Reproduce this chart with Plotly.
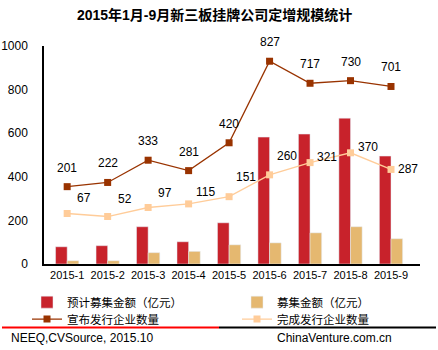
import plotly.graph_objects as go

months = ["2015-1", "2015-2", "2015-3", "2015-4", "2015-5", "2015-6", "2015-7", "2015-8", "2015-9"]
planned_amount = [79, 84, 171, 102, 189, 582, 596, 669, 495]      # 预计募集金额（亿元）
raised_amount = [15, 15, 52, 58, 88, 97, 143, 171, 116]           # 募集金额（亿元）
announced_count = [201, 222, 333, 281, 420, 827, 717, 730, 701]   # 宣布发行企业数量
completed_count = [67, 52, 97, 115, 151, 260, 321, 370, 287]      # 完成发行企业数量

names = ["预计募集金额（亿元）", "募集金额（亿元）", "宣布发行企业数量", "完成发行企业数量"]

FONT = "Liberation Sans, Arial, Noto Sans CJK SC, sans-serif"
RED = "#C8222B"
TAN = "#E5B870"
BROWN = "#993300"
PEACH = "#FFCC99"

# plot area geometry (pixels)
L, R, T, B = 44, 420, 45.7, 264.3
W, H = 438, 350

def px(x):
    return (x - L) / (R - L)

def py(y):
    return (B - y) / (B - T)

fig = go.Figure()
fig.add_trace(go.Bar(x=months, y=planned_amount, name=names[0], marker_color=RED, legend="legend"))
fig.add_trace(go.Bar(x=months, y=raised_amount, name=names[1], marker_color=TAN, legend="legend2"))
fig.add_trace(go.Scatter(x=months, y=announced_count, name=names[2], yaxis="y2", legend="legend3",
                         mode="lines+markers", line=dict(color=BROWN, width=1.3),
                         marker=dict(symbol="square", size=7, color=BROWN)))
fig.add_trace(go.Scatter(x=months, y=completed_count, name=names[3], yaxis="y2", legend="legend4",
                         mode="lines+markers", line=dict(color=PEACH, width=1.3),
                         marker=dict(symbol="square", size=7, color=PEACH)))

annotations = []
for m, v in zip(months, announced_count):
    annotations.append(dict(x=m, y=v, yref="y2", xref="x", text=str(v), showarrow=False,
                            yshift=19, font=dict(size=12, color="#000", family=FONT)))
light_yshift = [16, 18, 15, 12, 20, 19, 6, 6, 0]
for m, v, s in zip(months, completed_count, light_yshift):
    annotations.append(dict(x=m, y=v, yref="y2", xref="x", text=str(v), showarrow=False,
                            xshift=17, yshift=s, font=dict(size=12, color="#000", family=FONT)))

annotations.append(dict(x=px(9), y=py(339), xref="paper", yref="paper", text="NEEQ,CVSource, 2015.10",
                        showarrow=False, xanchor="left", yanchor="middle",
                        font=dict(size=12, color="#000", family=FONT)))
annotations.append(dict(x=px(275), y=py(339), xref="paper", yref="paper", text="ChinaVenture.com.cn",
                        showarrow=False, xanchor="left", yanchor="middle",
                        font=dict(size=12, color="#000", family=FONT)))

shapes = [
    dict(type="line", xref="paper", yref="paper", x0=px(2), x1=px(219), y0=py(328), y1=py(328),
         line=dict(color="#FF0000", width=2)),
    dict(type="line", xref="paper", yref="paper", x0=px(219), x1=px(436), y0=py(328), y1=py(328),
         line=dict(color="#000000", width=2)),
]

legend_common = dict(orientation="v", xanchor="left", yanchor="top",
                     font=dict(size=11.5, family=FONT), itemwidth=30, bgcolor="rgba(0,0,0,0)")

fig.update_layout(
    width=W, height=H,
    margin=dict(l=L, r=W - R, t=T, b=H - B, autoexpand=False),
    paper_bgcolor="white", plot_bgcolor="white",
    barmode="group", bargap=0.426, bargroupgap=0,
    font=dict(family=FONT, size=12, color="#000"),
    title=dict(text="<b>2015年1月-9月新三板挂牌公司定增规模统计</b>", x=0.49, xanchor="center",
               y=1 - 15 / H, yanchor="middle", yref="container",
               font=dict(size=14, color="#000", family=FONT)),
    xaxis=dict(type="category", showline=True, linecolor="#000", linewidth=1.5, ticks="", showgrid=False,
               tickfont=dict(size=11), automargin=False),
    yaxis=dict(range=[0, 1000], dtick=200, showline=True, linecolor="#000", linewidth=1.5,
               ticks="outside", ticklen=12, tickcolor="rgba(0,0,0,0)", showgrid=False, zeroline=False,
               tickfont=dict(size=12), automargin=False),
    yaxis2=dict(range=[-185, 903], overlaying="y", side="right", visible=False, showgrid=False),
    legend=dict(x=px(27), y=py(288), **legend_common),
    legend2=dict(x=px(237), y=py(288), **legend_common),
    legend3=dict(x=px(27), y=py(305), **legend_common),
    legend4=dict(x=px(237), y=py(305), **legend_common),
    annotations=annotations, shapes=shapes,
    showlegend=True,
)

fig.write_html("out.html")
